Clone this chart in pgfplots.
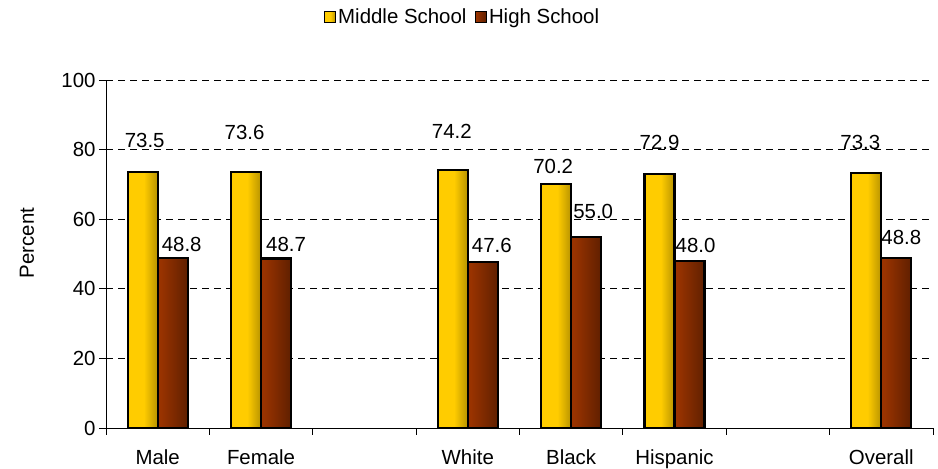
\documentclass[border=0pt]{standalone}
\usepackage{pgfplots}
\pgfplotsset{compat=1.18}
\usepackage{fontspec}
\setmainfont{Liberation Sans}
\definecolor{msA}{HTML}{B08C00}
\definecolor{msB}{HTML}{FFCC00}
\definecolor{msC}{HTML}{6A5500}
\definecolor{hsA}{HTML}{A03600}
\definecolor{hsB}{HTML}{993300}
\definecolor{hsC}{HTML}{401500}
\pgfdeclarehorizontalshading{msbar}{100bp}{color(0bp)=(msA); color(22bp)=(msB); color(52bp)=(msB); color(100bp)=(msC)}
\pgfdeclarehorizontalshading{hsbar}{100bp}{color(0bp)=(hsA); color(30bp)=(hsB); color(100bp)=(hsC)}
\pgfplotsset{
  msstyle/.style={shading=msbar, shade},
  hsstyle/.style={shading=hsbar, shade},
}
% #1 style, #2 bar shift, #3 x, #4 value, #5 label dx, #6 label dy
\newcommand{\onebar}[6]{%
  \addplot[#1, bar shift=#2, forget plot, nodes near coords=\relax]
    coordinates {(#3,#4)};
  \addplot[draw=black, fill=none, line width=2.2pt, bar shift=#2, forget plot,
    every node near coord/.append style={xshift=#5bp, yshift=#6bp}]
    coordinates {(#3,#4) [#4]};}
\begin{document}
\begin{tikzpicture}[font=\fontsize{20.5}{24}\selectfont]
\useasboundingbox (0,0) rectangle (938bp,469bp);
\begin{axis}[
  at={(106bp,41bp)}, anchor=south west,
  scale only axis, width=827bp, height=348bp,
  /pgf/number format/assume math mode=true,
  ybar, bar width=0.29,
  xmin=-0.5, xmax=7.5, ymin=0, ymax=100,
  xtick={-0.5,0.5,...,7.5},
  x tick label as interval,
  xticklabels={Male,Female,,White,Black,Hispanic,,Overall},
  xticklabel style={yshift=-11bp},
  ytick={0,20,...,100},
  ymajorgrids,
  grid style={black, dash pattern=on 7bp off 5bp, line width=0.8pt},
  tick align=outside, major tick length=7bp,
  tick style={black, line width=0.9pt},
  axis x line*=bottom, axis y line*=left,
  axis line style={-, black, line width=0.9pt},
  ylabel={Percent},
  ylabel style={at={(axis description cs:-0.0955,0.532)}, anchor=center},
  legend style={at={(0.431,1.181)}, anchor=center, draw=none, fill=none,
    legend columns=2, /tikz/every even column/.append style={column sep=6bp},
    font=\fontsize{20.5}{24}\selectfont},
  legend image code/.code={\path[#1] (1bp,-5.5bp) rectangle (12bp,5.5bp);
     \draw[black, line width=1.5pt] (1bp,-5.5bp) rectangle (12bp,5.5bp);},
  point meta=explicit symbolic,
  every node near coord/.append style={anchor=center, text=black, font=\fontsize{20.5}{24}\selectfont},
  nodes near coords,
]
% Middle School
\onebar{msstyle}{-0.145}{0}{73.5}{2}{32}
\onebar{msstyle}{-0.145}{1}{73.6}{-1.5}{39}
\onebar{msstyle}{-0.145}{3}{74.2}{-1}{38}
\onebar{msstyle}{-0.145}{4}{70.2}{-3}{17}
\onebar{msstyle}{-0.145}{5}{72.9}{0}{32}
\onebar{msstyle}{-0.145}{7}{73.3}{-6}{30}
% High School
\onebar{hsstyle}{0.145}{0}{48.8}{9}{14}
\onebar{hsstyle}{0.145}{1}{48.7}{10}{14}
\onebar{hsstyle}{0.145}{3}{47.6}{9}{17}
\onebar{hsstyle}{0.145}{4}{55.0}{7}{25}
\onebar{hsstyle}{0.145}{5}{48.0}{6}{15}
\onebar{hsstyle}{0.145}{7}{48.8}{5}{21}
\addlegendimage{msstyle}
\addlegendentry{Middle School}
\addlegendimage{hsstyle}
\addlegendentry{High School}
\end{axis}
\end{tikzpicture}
\end{document}
